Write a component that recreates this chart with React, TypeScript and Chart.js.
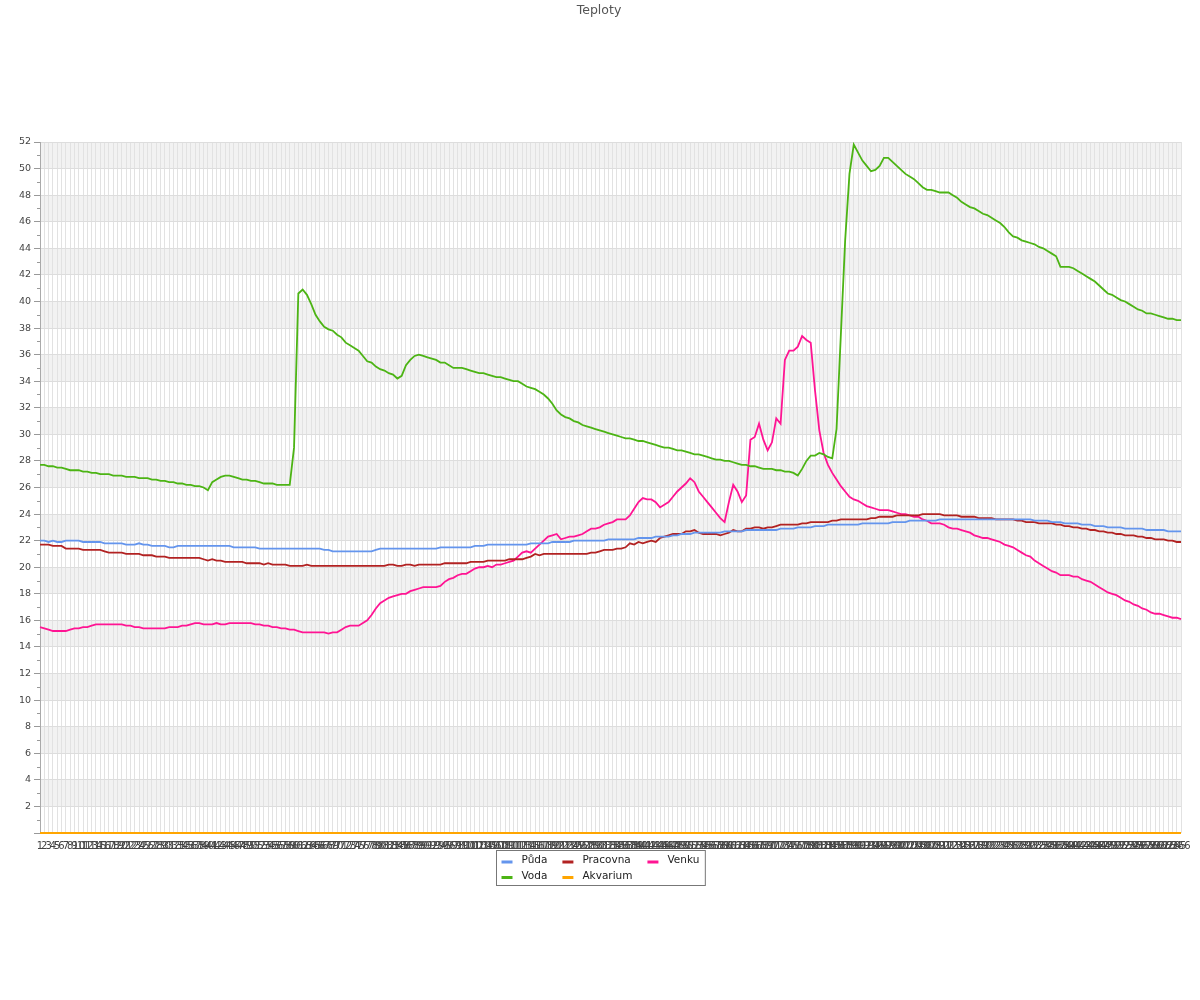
import React, { useEffect, useRef } from "react";
import { Chart, registerables } from "chart.js";

Chart.register(...registerables);

const TITLE = "Teploty";

// category labels 1..266
const labels: string[] = Array.from({ length: 266 }, (_, i) => String(i + 1));

const yTicks = { min: 0, max: 52, step: 2 };

const puda = [
  22.0, 22.0, 21.9, 22.0, 21.9, 21.9, 22.0, 22.0, 22.0, 22.0, 21.9, 21.9, 21.9, 21.9, 21.9,
  21.8, 21.8, 21.8, 21.8, 21.8, 21.7, 21.7, 21.7, 21.8, 21.7, 21.7, 21.6, 21.6, 21.6, 21.6,
  21.5, 21.5, 21.6, 21.6, 21.6, 21.6, 21.6, 21.6, 21.6, 21.6, 21.6, 21.6, 21.6, 21.6, 21.6,
  21.5, 21.5, 21.5, 21.5, 21.5, 21.5, 21.4, 21.4, 21.4, 21.4, 21.4, 21.4, 21.4, 21.4, 21.4,
  21.4, 21.4, 21.4, 21.4, 21.4, 21.4, 21.3, 21.3, 21.2, 21.2,
  21.2, 21.2, 21.2, 21.2, 21.2, 21.2, 21.2, 21.2, 21.3, 21.4,
  21.4, 21.4, 21.4, 21.4, 21.4, 21.4, 21.4, 21.4, 21.4, 21.4, 21.4, 21.4, 21.4,
  21.5, 21.5, 21.5, 21.5, 21.5, 21.5, 21.5, 21.5,
  21.6, 21.6, 21.6, 21.7, 21.7, 21.7, 21.7, 21.7, 21.7, 21.7, 21.7, 21.7, 21.7,
  21.8, 21.8, 21.8, 21.8, 21.8, 21.9, 21.9, 21.9, 21.9, 21.9, 22.0,
  22.0, 22.0, 22.0, 22.0, 22.0, 22.0, 22.0, 22.1, 22.1, 22.1, 22.1, 22.1, 22.1, 22.1, 22.2,
  22.2, 22.2, 22.2, 22.3, 22.3, 22.3, 22.3, 22.4, 22.4, 22.5, 22.5, 22.5, 22.6, 22.6, 22.6,
  22.6, 22.6, 22.6, 22.6, 22.7, 22.7, 22.7, 22.7, 22.7, 22.8, 22.8, 22.8, 22.8, 22.8, 22.8,
  22.8, 22.8, 22.9, 22.9, 22.9, 22.9, 23.0, 23.0, 23.0, 23.0, 23.1, 23.1, 23.1, 23.2, 23.2,
  23.2, 23.2, 23.2, 23.2, 23.2, 23.2, 23.3, 23.3, 23.3, 23.3, 23.3, 23.3, 23.3, 23.4, 23.4,
  23.4, 23.4, 23.5, 23.5, 23.5, 23.5, 23.5, 23.5, 23.5, 23.6, 23.6, 23.6, 23.6, 23.6, 23.6,
  23.6, 23.6, 23.6, 23.6, 23.6, 23.6, 23.6, 23.6, 23.6, 23.6, 23.6, 23.6, 23.6, 23.6, 23.6,
  23.6, 23.5, 23.5, 23.5, 23.5, 23.4, 23.4, 23.4, 23.3, 23.3, 23.3, 23.3, 23.2, 23.2, 23.2,
  23.1, 23.1, 23.1, 23.0, 23.0, 23.0, 23.0, 22.9, 22.9, 22.9, 22.9, 22.9, 22.8, 22.8, 22.8,
  22.8, 22.8, 22.7, 22.7, 22.7, 22.7,
];

const voda = [
  27.7, 27.7, 27.6, 27.6, 27.5, 27.5, 27.4, 27.3, 27.3, 27.3,
  27.2, 27.2, 27.1, 27.1, 27.0, 27.0, 27.0, 26.9, 26.9, 26.9,
  26.8, 26.8, 26.8, 26.7, 26.7, 26.7, 26.6, 26.6, 26.5, 26.5,
  26.4, 26.4, 26.3, 26.3, 26.2, 26.2, 26.1, 26.1, 26.0, 25.8,
  26.4, 26.6, 26.8, 26.9, 26.9, 26.8, 26.7, 26.6, 26.6, 26.5,
  26.5, 26.4, 26.3, 26.3, 26.3, 26.2, 26.2, 26.2, 26.2, 29.0,
  40.6, 40.9, 40.5, 39.8, 39.0, 38.5, 38.1, 37.9, 37.8, 37.5,
  37.3, 36.9, 36.7, 36.5, 36.3, 35.9, 35.5, 35.4, 35.1, 34.9,
  34.8, 34.6, 34.5, 34.2, 34.4, 35.2, 35.6, 35.9, 36.0, 35.9,
  35.8, 35.7, 35.6, 35.4, 35.4, 35.2, 35.0, 35.0, 35.0, 34.9,
  34.8, 34.7, 34.6, 34.6, 34.5, 34.4, 34.3, 34.3, 34.2, 34.1,
  34.0, 34.0, 33.8, 33.6, 33.5, 33.4, 33.2, 33.0, 32.7, 32.3,
  31.8, 31.5, 31.3, 31.2, 31.0, 30.9, 30.7, 30.6, 30.5, 30.4,
  30.3, 30.2, 30.1, 30.0, 29.9, 29.8, 29.7, 29.7, 29.6, 29.5,
  29.5, 29.4, 29.3, 29.2, 29.1, 29.0, 29.0, 28.9, 28.8, 28.8,
  28.7, 28.6, 28.5, 28.5, 28.4, 28.3, 28.2, 28.1, 28.1, 28.0,
  28.0, 27.9, 27.8, 27.7, 27.7, 27.6, 27.6, 27.5, 27.4, 27.4,
  27.4, 27.3, 27.3, 27.2, 27.2, 27.1, 26.9, 27.4, 28.0, 28.4,
  28.4, 28.6, 28.5, 28.3, 28.2, 30.4, 37.5, 44.6, 49.6, 51.8,
  51.2, 50.6, 50.2, 49.8, 49.9, 50.2, 50.8, 50.8, 50.5, 50.2,
  49.9, 49.6, 49.4, 49.2, 48.9, 48.6, 48.4, 48.4, 48.3, 48.2,
  48.2, 48.2, 48.0, 47.8, 47.5, 47.3, 47.1, 47.0, 46.8, 46.6,
  46.5, 46.3, 46.1, 45.9, 45.6, 45.2, 44.9, 44.8, 44.6, 44.5,
  44.4, 44.3, 44.1, 44.0, 43.8, 43.6, 43.4, 42.6, 42.6, 42.6,
  42.5, 42.3, 42.1, 41.9, 41.7, 41.5, 41.2, 40.9, 40.6, 40.5,
  40.3, 40.1, 40.0, 39.8, 39.6, 39.4, 39.3, 39.1, 39.1, 39.0,
  38.9, 38.8, 38.7, 38.7, 38.6, 38.6,
];

const pracovna = [
  21.7, 21.7, 21.7, 21.6, 21.6, 21.6, 21.4, 21.4, 21.4, 21.4,
  21.3, 21.3, 21.3, 21.3, 21.3, 21.2, 21.1, 21.1, 21.1, 21.1,
  21.0, 21.0, 21.0, 21.0, 20.9, 20.9, 20.9, 20.8, 20.8, 20.8,
  20.7, 20.7, 20.7, 20.7, 20.7, 20.7, 20.7, 20.7, 20.6, 20.5,
  20.6, 20.5, 20.5, 20.4, 20.4, 20.4, 20.4, 20.4, 20.3, 20.3,
  20.3, 20.3, 20.2, 20.3, 20.2, 20.2, 20.2, 20.2, 20.1, 20.1,
  20.1, 20.1, 20.2, 20.1, 20.1, 20.1, 20.1, 20.1, 20.1, 20.1,
  20.1, 20.1, 20.1, 20.1, 20.1, 20.1, 20.1, 20.1, 20.1, 20.1,
  20.1, 20.2, 20.2, 20.1, 20.1, 20.2, 20.2, 20.1, 20.2, 20.2,
  20.2, 20.2, 20.2, 20.2, 20.3, 20.3, 20.3, 20.3, 20.3, 20.3,
  20.4, 20.4, 20.4, 20.4, 20.5, 20.5, 20.5, 20.5, 20.5, 20.6,
  20.6, 20.6, 20.6, 20.7, 20.8, 21.0, 20.9, 21.0, 21.0, 21.0,
  21.0, 21.0, 21.0, 21.0, 21.0, 21.0, 21.0, 21.0, 21.1, 21.1,
  21.2, 21.3, 21.3, 21.3, 21.4, 21.4, 21.5, 21.8, 21.7, 21.9,
  21.8, 21.9, 22.0, 21.9, 22.2, 22.3, 22.4, 22.5, 22.5, 22.5,
  22.7, 22.7, 22.8, 22.6, 22.5, 22.5, 22.5, 22.5, 22.4, 22.5,
  22.6, 22.8, 22.7, 22.7, 22.9, 22.9, 23.0, 23.0, 22.9, 23.0,
  23.0, 23.1, 23.2, 23.2, 23.2, 23.2, 23.2, 23.3, 23.3, 23.4,
  23.4, 23.4, 23.4, 23.4, 23.5, 23.5, 23.6, 23.6, 23.6, 23.6,
  23.6, 23.6, 23.6, 23.7, 23.7, 23.8, 23.8, 23.8, 23.8, 23.9,
  23.9, 23.9, 23.9, 23.9, 23.9, 24.0, 24.0, 24.0, 24.0, 24.0,
  23.9, 23.9, 23.9, 23.9, 23.8, 23.8, 23.8, 23.8, 23.7, 23.7,
  23.7, 23.7, 23.6, 23.6, 23.6, 23.6, 23.6, 23.5, 23.5, 23.4,
  23.4, 23.4, 23.3, 23.3, 23.3, 23.3, 23.2, 23.2, 23.1, 23.1,
  23.0, 23.0, 22.9, 22.9, 22.8, 22.8, 22.7, 22.7, 22.6, 22.6,
  22.5, 22.5, 22.4, 22.4, 22.4, 22.3, 22.3, 22.2, 22.2, 22.1,
  22.1, 22.1, 22.0, 22.0, 21.9, 21.9,
];

const akvarium = [
  0, 0, 0, 0, 0, 0, 0, 0, 0, 0, 0, 0, 0, 0, 0, 0, 0, 0, 0, 0,
  0, 0, 0, 0, 0, 0, 0, 0, 0, 0, 0, 0, 0, 0, 0, 0, 0, 0, 0, 0,
  0, 0, 0, 0, 0, 0, 0, 0, 0, 0, 0, 0, 0, 0, 0, 0, 0, 0, 0, 0,
  0, 0, 0, 0, 0, 0, 0, 0, 0, 0, 0, 0, 0, 0, 0, 0, 0, 0, 0, 0,
  0, 0, 0, 0, 0, 0, 0, 0, 0, 0, 0, 0, 0, 0, 0, 0, 0, 0, 0, 0,
  0, 0, 0, 0, 0, 0, 0, 0, 0, 0, 0, 0, 0, 0, 0, 0, 0, 0, 0, 0,
  0, 0, 0, 0, 0, 0, 0, 0, 0, 0, 0, 0, 0, 0, 0, 0, 0, 0, 0, 0,
  0, 0, 0, 0, 0, 0, 0, 0, 0, 0, 0, 0, 0, 0, 0, 0, 0, 0, 0, 0,
  0, 0, 0, 0, 0, 0, 0, 0, 0, 0, 0, 0, 0, 0, 0, 0, 0, 0, 0, 0,
  0, 0, 0, 0, 0, 0, 0, 0, 0, 0, 0, 0, 0, 0, 0, 0, 0, 0, 0, 0,
  0, 0, 0, 0, 0, 0, 0, 0, 0, 0, 0, 0, 0, 0, 0, 0, 0, 0, 0, 0,
  0, 0, 0, 0, 0, 0, 0, 0, 0, 0, 0, 0, 0, 0, 0, 0, 0, 0, 0, 0,
  0, 0, 0, 0, 0, 0, 0, 0, 0, 0, 0, 0, 0, 0, 0, 0, 0, 0, 0, 0,
  0, 0, 0, 0, 0, 0,
];

const venku = [
  15.5, 15.4, 15.3, 15.2, 15.2, 15.2, 15.2, 15.3, 15.4, 15.4,
  15.5, 15.5, 15.6, 15.7, 15.7, 15.7, 15.7, 15.7, 15.7, 15.7,
  15.6, 15.6, 15.5, 15.5, 15.4, 15.4, 15.4, 15.4, 15.4, 15.4,
  15.5, 15.5, 15.5, 15.6, 15.6, 15.7, 15.8, 15.8, 15.7, 15.7,
  15.7, 15.8, 15.7, 15.7, 15.8, 15.8, 15.8, 15.8, 15.8, 15.8,
  15.7, 15.7, 15.6, 15.6, 15.5, 15.5, 15.4, 15.4, 15.3, 15.3,
  15.2, 15.1, 15.1, 15.1, 15.1, 15.1, 15.1, 15.0, 15.1, 15.1,
  15.3, 15.5, 15.6, 15.6, 15.6, 15.8, 16.0, 16.4, 16.9, 17.3,
  17.5, 17.7, 17.8, 17.9, 18.0, 18.0, 18.2, 18.3, 18.4, 18.5,
  18.5, 18.5, 18.5, 18.6, 18.9, 19.1, 19.2, 19.4, 19.5, 19.5,
  19.7, 19.9, 20.0, 20.0, 20.1, 20.0, 20.2, 20.2, 20.3, 20.4,
  20.5, 20.8, 21.1, 21.2, 21.1, 21.4, 21.7, 22.0, 22.3, 22.4,
  22.5, 22.1, 22.2, 22.3, 22.3, 22.4, 22.5, 22.7, 22.9, 22.9,
  23.0, 23.2, 23.3, 23.4, 23.6, 23.6, 23.6, 23.9, 24.4, 24.9,
  25.2, 25.1, 25.1, 24.9, 24.5, 24.7, 24.9, 25.3, 25.7, 26.0,
  26.3, 26.7, 26.4, 25.7, 25.3, 24.9, 24.5, 24.1, 23.7, 23.4,
  24.9, 26.2, 25.7, 24.9, 25.4, 29.6, 29.8, 30.8, 29.6, 28.8,
  29.4, 31.2, 30.8, 35.6, 36.3, 36.3, 36.6, 37.4, 37.1, 36.9,
  33.3, 30.3, 28.6, 27.7, 27.1, 26.6, 26.1, 25.7, 25.3, 25.1,
  25.0, 24.8, 24.6, 24.5, 24.4, 24.3, 24.3, 24.3, 24.2, 24.1,
  24.0, 24.0, 23.9, 23.8, 23.8, 23.6, 23.5, 23.3, 23.3, 23.3,
  23.2, 23.0, 22.9, 22.9, 22.8, 22.7, 22.6, 22.4, 22.3, 22.2,
  22.2, 22.1, 22.0, 21.9, 21.7, 21.6, 21.5, 21.3, 21.1, 20.9,
  20.8, 20.5, 20.3, 20.1, 19.9, 19.7, 19.6, 19.4, 19.4, 19.4,
  19.3, 19.3, 19.1, 19.0, 18.9, 18.7, 18.5, 18.3, 18.1, 18.0,
  17.9, 17.7, 17.5, 17.4, 17.2, 17.1, 16.9, 16.8, 16.6, 16.5,
  16.5, 16.4, 16.3, 16.2, 16.2, 16.1,
];

const seriesNames = ["Půda", "Voda", "Pracovna", "Akvarium", "Venku"];
const seriesColors = ["#6495ed", "#4cb414", "#b22222", "#ffa500", "#ff1493"];
const seriesData = [puda, voda, pracovna, akvarium, venku];

const FONT = "'DejaVu Sans', sans-serif";

const decorPlugin = {
  id: "decor",
  beforeDraw(chart: any) {
    const { ctx, chartArea, scales } = chart;
    const y = scales.y;
    ctx.save();
    ctx.fillStyle = "#ffffff";
    ctx.fillRect(0, 0, chart.width, chart.height);
    ctx.fillStyle = "#f2f2f2";
    for (let v = yTicks.min + 2; v < yTicks.max; v += 4) {
      const top = y.getPixelForValue(v + 2);
      const bot = y.getPixelForValue(v);
      ctx.fillRect(chartArea.left, top, chartArea.right - chartArea.left, bot - top);
    }
    ctx.restore();
  },
  afterDraw(chart: any) {
    const { ctx, chartArea, scales } = chart;
    const y = scales.y;
    ctx.save();
    // minor ticks
    ctx.strokeStyle = "#999";
    ctx.lineWidth = 1;
    ctx.beginPath();
    for (let v = yTicks.min + 1; v < yTicks.max; v += 2) {
      const py = Math.round(y.getPixelForValue(v)) + 0.5;
      ctx.moveTo(chartArea.left - 3, py);
      ctx.lineTo(chartArea.left, py);
    }
    ctx.stroke();

    // title
    ctx.fillStyle = "#555";
    ctx.font = `12.5px ${FONT}`;
    ctx.textAlign = "center";
    ctx.textBaseline = "middle";
    ctx.fillText(TITLE, chart.width / 2 - 1, 11);

    // legend (2 rows, column-major)
    const ds = chart.data.datasets;
    ctx.font = `10.5px ${FONT}`;
    const rows = 2;
    const cols = Math.ceil(ds.length / rows);
    const colW: number[] = [];
    for (let c = 0; c < cols; c++) {
      let w = 0;
      for (let r = 0; r < rows; r++) {
        const i = c * rows + r;
        if (i < ds.length) w = Math.max(w, ctx.measureText(ds[i].label).width);
      }
      colW.push(w);
    }
    const sw = 11, gap = 9, colGap = 15, padL = 5, padR = 6;
    let total = padL + padR;
    colW.forEach((w, c) => {
      total += sw + gap + w + (c < cols - 1 ? colGap : 0);
    });
    const bx = Math.round(chart.width / 2 + 1 - total / 2) - 0.5;
    const by = 850.5;
    const bh = 35;
    ctx.fillStyle = "#fff";
    ctx.fillRect(bx, by, total, bh);
    ctx.strokeStyle = "#777";
    ctx.lineWidth = 1;
    ctx.strokeRect(bx, by, total, bh);
    let cx = bx + padL;
    const rowY = [by + 10, by + 25.5];
    ctx.textAlign = "left";
    ctx.textBaseline = "middle";
    for (let c = 0; c < cols; c++) {
      for (let r = 0; r < rows; r++) {
        const i = c * rows + r;
        if (i >= ds.length) continue;
        ctx.strokeStyle = ds[i].borderColor;
        ctx.lineWidth = 3;
        ctx.beginPath();
        ctx.moveTo(cx, rowY[r] + 1.5);
        ctx.lineTo(cx + sw, rowY[r] + 1.5);
        ctx.stroke();
        ctx.fillStyle = "#222";
        ctx.fillText(ds[i].label, cx + sw + gap, rowY[r]);
      }
      cx += sw + gap + colW[c] + colGap;
    }
    ctx.restore();
  },
};

export default function App() {
  const ref = useRef<HTMLCanvasElement | null>(null);

  useEffect(() => {
    if (!ref.current) return;
    Chart.defaults.font.family = FONT;
    const chart = new Chart(ref.current, {
      type: "line",
      data: {
        labels,
        datasets: seriesNames.map((name, i) => ({
          label: name,
          data: seriesData[i],
          borderColor: seriesColors[i],
          backgroundColor: seriesColors[i],
          borderWidth: i === 3 ? 2 : 1.8,
          pointRadius: 0,
          pointHoverRadius: 0,
          tension: 0,
          fill: false,
          clip: 3,
        })),
      },
      options: {
        animation: false,
        responsive: false,
        devicePixelRatio: 1,
        events: [],
        layout: { padding: { top: 142, left: 0, right: 19, bottom: 147 } },
        plugins: {
          legend: { display: false },
          title: { display: false },
          tooltip: { enabled: false },
        },
        scales: {
          x: {
            type: "category",
            offset: false,
            grid: { color: "#e2e2e2", lineWidth: 1, drawTicks: false },
            border: { display: false },
            ticks: {
              autoSkip: false,
              maxRotation: 0,
              minRotation: 0,
              padding: 7,
              color: "#444",
              font: { size: 10, family: FONT },
            },
            afterFit: (s: any) => {
              s.height = 20;
            },
          },
          y: {
            min: yTicks.min,
            max: yTicks.max,
            grid: { color: "#dddddd", tickColor: "#999", tickLength: 6, lineWidth: 1 },
            border: { display: true, color: "#aaa" },
            ticks: {
              stepSize: yTicks.step,
              padding: 3,
              color: "#444",
              font: { size: 9.5, family: FONT },
              callback: (v: any) => (v === 0 ? "" : String(v)),
            },
            afterFit: (s: any) => {
              s.width = 40;
            },
          },
        },
      },
      plugins: [decorPlugin],
    });
    return () => chart.destroy();
  }, []);

  return (
    <div style={{ position: "absolute", left: 0, top: 0, width: 1200, height: 1000 }}>
      <canvas ref={ref} width={1200} height={1000} />
    </div>
  );
}
